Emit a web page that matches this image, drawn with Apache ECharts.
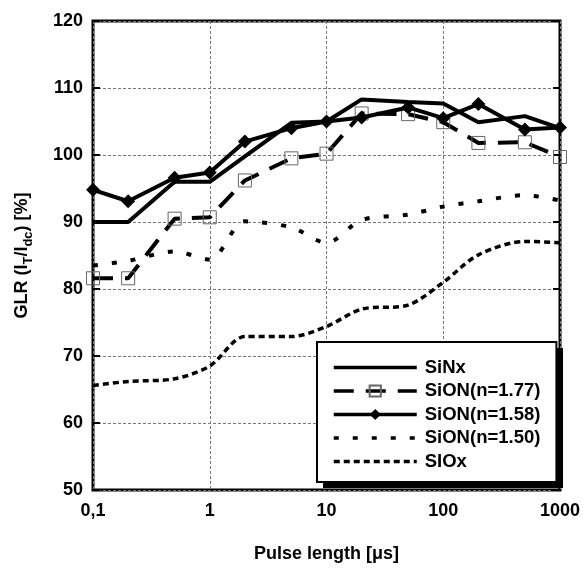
<!DOCTYPE html>
<html>
<head>
<meta charset="utf-8">
<script src="https://cdn.jsdelivr.net/npm/echarts@6/dist/echarts.min.js"></script>
<style>html,body{margin:0;padding:0;background:#fff}#c{width:585px;height:570px}</style>
</head>
<body>
<div id="c"></div>
<script>
const pulseLength = [0.1, 0.2, 0.5, 1, 2, 5, 10, 20, 50, 100, 200, 500, 1000];
const siNx     = [90, 90, 96, 96, 99.8, 104.8, 105, 108.3, 107.9, 107.7, 104.9, 105.8, 104];
const siON177  = [81.6, 81.6, 90.5, 90.7, 96.2, 99.5, 100.2, 106.2, 106.1, 104.9, 101.8, 101.9, 99.7];
const siON158  = [94.8, 93.1, 96.6, 97.4, 102, 104, 105, 105.6, 107.1, 105.5, 107.6, 103.8, 104.1];
const siON150  = [83.5, 84.2, 85.6, 84.4, 90.1, 89.2, 86.9, 90.3, 91.1, 92.3, 93.1, 94, 93.2];
const siOx     = [65.6, 66.2, 66.6, 68.5, 72.9, 72.9, 74.4, 77.0, 77.6, 81.0, 85.1, 87.1, 86.9];
const seriesNames = ['SiNx', 'SiON(n=1.77)', 'SiON(n=1.58)', 'SiON(n=1.50)', 'SIOx'];
const xTickLabels = {0.1: '0,1', 1: '1', 10: '10', 100: '100', 1000: '1000'};

const pair = ys => pulseLength.map((x, i) => [x, ys[i]]);
const font = 'Liberation Sans, Arial, sans-serif';
const noSymbol = {color: 'rgba(0,0,0,0)', borderWidth: 0, opacity: 0};

const chart = echarts.init(document.getElementById('c'), null, {renderer: 'canvas'});
chart.setOption({
  animation: false,
  backgroundColor: '#fff',
  grid: {left: 93, right: 25, top: 21, bottom: 80, show: true, borderColor: '#000', borderWidth: 3, backgroundColor: 'transparent'},
  graphic: [{
    type: 'rect', z: 50, silent: true,
    shape: {x: 323, y: 348, width: 240, height: 140},
    style: {fill: '#000'}
  }],
  xAxis: {
    type: 'log', logBase: 10, min: 0.1, max: 1000,
    name: 'Pulse length [μs]', nameLocation: 'middle', nameGap: 55,
    nameTextStyle: {fontFamily: font, fontWeight: 'bold', fontSize: 18, color: '#000'},
    axisLine: {show: false},
    axisTick: {show: false},
    splitLine: {show: true, lineStyle: {color: '#777', type: [3, 2], width: 1}},
    minorTick: {show: false},
    axisLabel: {
      fontFamily: font, fontWeight: 'bold', fontSize: 18, color: '#000', margin: 12,
      formatter: v => xTickLabels[+v.toPrecision(6)] !== undefined ? xTickLabels[+v.toPrecision(6)] : String(v)
    }
  },
  yAxis: [{
    type: 'value', min: 50, max: 120, interval: 10, position: 'left',
    name: 'GLR (I{sub|T}/I{sub|dc}) [%]', nameLocation: 'middle', nameGap: 58, nameRotate: 90,
    nameTextStyle: {
      fontFamily: font, fontWeight: 'bold', fontSize: 18, color: '#000', lineHeight: 26,
      rich: {sub: {fontFamily: font, fontWeight: 'bold', fontSize: 13, color: '#000', lineHeight: 13, verticalAlign: 'bottom'}}
    },
    axisLine: {show: false},
    axisTick: {show: true, inside: true, length: 7, lineStyle: {color: '#000', width: 2}},
    splitLine: {show: true, lineStyle: {color: '#777', type: [3, 2], width: 1}},
    axisLabel: {fontFamily: font, fontWeight: 'bold', fontSize: 18, color: '#000', margin: 10}
  }, {
    type: 'value', min: 50, max: 120, interval: 10, position: 'right',
    axisLine: {show: false},
    axisTick: {show: true, inside: true, length: 7, lineStyle: {color: '#000', width: 2}},
    splitLine: {show: false},
    axisLabel: {show: false}
  }],
  legend: {
    orient: 'vertical', left: 317, top: 342, z: 60,
    padding: [16, 16, 11, 15], itemGap: 4.5, itemWidth: 83, itemHeight: 14,
    backgroundColor: '#fff', borderColor: '#000', borderWidth: 2,
    lineStyle: {width: 3.5},
    textStyle: {fontFamily: font, fontWeight: 'bold', fontSize: 18.5, color: '#000', padding: [0, 0, 0, 3]},
    data: [
      {name: seriesNames[0], itemStyle: noSymbol},
      {name: seriesNames[1]},
      {name: seriesNames[2]},
      {name: seriesNames[3], itemStyle: noSymbol},
      {name: seriesNames[4], itemStyle: noSymbol}
    ]
  },
  series: [
    {name: seriesNames[0], type: 'line', data: pair(siNx), showSymbol: false, symbol: 'none',
     lineStyle: {color: '#000', width: 4}, itemStyle: {color: '#000'}, z: 4},
    {name: seriesNames[1], type: 'line', data: pair(siON177), symbol: 'rect', symbolSize: 13,
     lineStyle: {color: '#000', width: 4, type: [20, 12]},
     itemStyle: {color: 'rgba(255,255,255,0)', borderColor: '#666', borderWidth: 1}, z: 3},
    {name: seriesNames[2], type: 'line', data: pair(siON158), symbol: 'diamond', symbolSize: 14,
     lineStyle: {color: '#000', width: 4}, itemStyle: {color: '#000'}, z: 5},
    {name: seriesNames[3], type: 'line', data: pair(siON150), symbol: 'none', smooth: 0.3,
     lineStyle: {color: '#000', width: 4, type: [5, 14]}, itemStyle: {color: '#000'}, z: 2},
    {name: seriesNames[4], type: 'line', data: pair(siOx), symbol: 'none', smooth: 0.3,
     lineStyle: {color: '#000', width: 3.5, type: [6, 4]}, itemStyle: {color: '#000'}, z: 2}
  ]
});
</script>
</body>
</html>
